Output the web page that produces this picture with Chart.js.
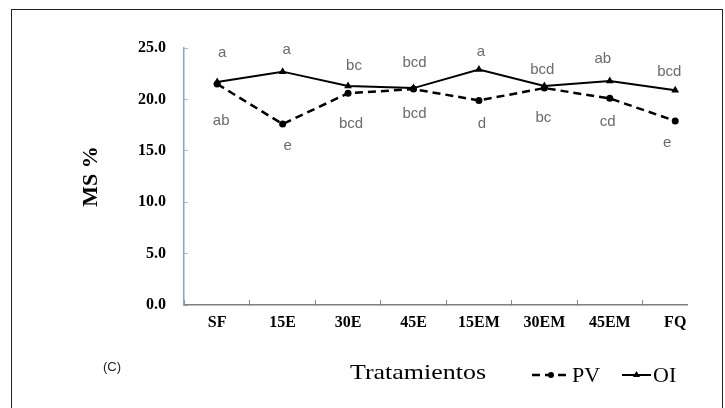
<!DOCTYPE html>
<html>
<head>
<meta charset="utf-8">
<script src="https://cdn.jsdelivr.net/npm/chart.js@4/dist/chart.umd.min.js"></script>
<style>
  html, body { margin: 0; padding: 0; background: #ffffff; }
  #wrap { position: relative; width: 725px; height: 408px; overflow: hidden; }
  #frame { position: absolute; left: 11px; top: 9px; width: 712px; height: 410px; border: 1.5px solid #222; box-sizing: border-box; pointer-events: none; }
  canvas { position: absolute; left: 0; top: 0; }
</style>
</head>
<body>
<div id="wrap">
  <canvas id="c" width="725" height="408"></canvas>
  <div id="frame"></div>
</div>
<script>
// ---- data ----
const categories = ["SF", "15E", "30E", "45E", "15EM", "30EM", "45EM", "FQ"];
const pvValues = [21.5, 17.6, 20.6, 21.0, 19.9, 21.1, 20.1, 17.9];
const oiValues = [21.7, 22.7, 21.3, 21.1, 22.9, 21.3, 21.8, 20.9];
const pvLetters = ["ab", "e", "bcd", "bcd", "d", "bc", "cd", "e"];
const oiLetters = ["a", "a", "bc", "bcd", "a", "bcd", "ab", "bcd"];
const yTicks = [0, 5, 10, 15, 20, 25];
const seriesNames = ["PV", "OI"];

// ---- label placement (pixel offsets from each point, text centre) ----
const oiLabelOffsets = [[5,-29],[4,-22],[6,-20],[1,-25],[2,-18],[-2,-16],[-7,-22],[-6,-18]];
const pvLabelOffsets = [[4,37],[5,22],[3,31],[1,25],[3,23],[-1,30],[-2,23],[-8,22]];

const SERIF = "'Liberation Serif', 'Times New Roman', serif";
const SANS = "'Liberation Sans', Arial, sans-serif";

const lettersPlugin = {
  id: 'letters',
  afterDatasetsDraw(chart) {
    const ctx = chart.ctx;
    ctx.save();
    ctx.font = "15px " + SANS;
    ctx.fillStyle = "#6b6b6b";
    ctx.textAlign = "center";
    ctx.textBaseline = "middle";
    const sets = [[0, pvLetters, pvLabelOffsets], [1, oiLetters, oiLabelOffsets]];
    sets.forEach(([di, letters, offs]) => {
      const meta = chart.getDatasetMeta(di);
      meta.data.forEach((pt, i) => {
        ctx.fillText(letters[i], pt.x + offs[i][0], pt.y + offs[i][1]);
      });
    });
    ctx.restore();
  }
};

const bottomTextPlugin = {
  id: 'bottomText',
  afterDraw(chart) {
    const ctx = chart.ctx;
    ctx.save();
    // panel tag
    ctx.font = "13px " + SANS;
    ctx.fillStyle = "#222";
    ctx.textAlign = "center";
    ctx.textBaseline = "middle";
    ctx.fillText("(C)", 112, 367);
    // axis title (slightly widened like the reference)
    ctx.save();
    ctx.translate(418, 379);
    ctx.scale(1.18, 1);
    ctx.font = "22px " + SERIF;
    ctx.fillStyle = "#000";
    ctx.textBaseline = "alphabetic";
    ctx.fillText("Tratamientos", 0, 0);
    ctx.restore();
    // legend
    const ly = 375;
    const items = [
      { x: 532, w: 38, ds: chart.data.datasets[0] },
      { x: 622, w: 29, ds: chart.data.datasets[1] }
    ];
    items.forEach(it => {
      const ds = it.ds;
      ctx.strokeStyle = ds.borderColor;
      ctx.lineWidth = ds.borderWidth;
      ctx.setLineDash(ds.borderDash || []);
      ctx.beginPath();
      ctx.moveTo(it.x, ly);
      ctx.lineTo(it.x + it.w, ly);
      ctx.stroke();
      ctx.setLineDash([]);
      ctx.fillStyle = ds.pointBackgroundColor;
      const cx = it.x + it.w / 2;
      if (ds.pointStyle === 'circle') {
        ctx.beginPath();
        ctx.arc(cx, ly, 3, 0, Math.PI * 2);
        ctx.fill();
      } else {
        ctx.beginPath();
        ctx.moveTo(cx, ly - 4);
        ctx.lineTo(cx + 3.5, ly + 2);
        ctx.lineTo(cx - 3.5, ly + 2);
        ctx.closePath();
        ctx.fill();
      }
      ctx.font = "22px " + SERIF;
      ctx.fillStyle = "#000";
      ctx.textAlign = "left";
      ctx.textBaseline = "alphabetic";
      ctx.fillText(ds.label, it.x + it.w + 2, 382);
    });
    ctx.restore();
  }
};

const toPoints = vals => vals.map((v, i) => ({ x: i, y: v }));

new Chart(document.getElementById('c'), {
  type: 'line',
  data: {
    datasets: [
      {
        label: seriesNames[0],
        data: toPoints(pvValues),
        borderColor: '#000',
        borderWidth: 2.5,
        borderDash: [8, 5],
        pointStyle: 'circle',
        pointRadius: 3.5,
        pointBackgroundColor: '#000',
        pointBorderColor: '#000',
        pointBorderWidth: 0,
        tension: 0,
        fill: false
      },
      {
        label: seriesNames[1],
        data: toPoints(oiValues),
        borderColor: '#000',
        borderWidth: 2,
        pointStyle: 'triangle',
        pointRadius: 4.5,
        pointBackgroundColor: '#000',
        pointBorderColor: '#000',
        pointBorderWidth: 0,
        tension: 0,
        fill: false
      }
    ]
  },
  options: {
    responsive: false,
    animation: false,
    devicePixelRatio: 1,
    layout: { padding: { left: 0, top: 48, right: 38, bottom: 0 } },
    plugins: {
      legend: { display: false },
      tooltip: { enabled: false }
    },
    scales: {
      x: {
        type: 'linear',
        min: -0.507,
        max: 7.18,
        afterBuildTicks: s => { s.ticks = categories.map((_, i) => ({ value: i })); },
        afterFit: s => { s.height = 103; },
        ticks: {
          autoSkip: false,
          maxRotation: 0,
          padding: 13,
          color: '#000',
          font: { family: SERIF, size: 16, weight: 'bold' },
          callback: v => categories[v]
        },
        grid: {
          offset: true,
          drawOnChartArea: false,
          drawTicks: true,
          tickLength: -5,
          color: '#8a8a8a',
          lineWidth: 1
        },
        border: { display: true, color: '#7f7f7f', width: 1.5 }
      },
      y: {
        type: 'linear',
        min: 0,
        max: 25,
        afterBuildTicks: s => { s.ticks = yTicks.map(v => ({ value: v })); },
        afterFit: s => { s.width = 184; },
        ticks: {
          padding: 22,
          color: '#000',
          font: { family: SERIF, size: 16, weight: 'bold' },
          callback: v => Number(v).toFixed(1)
        },
        grid: {
          drawOnChartArea: false,
          drawTicks: true,
          tickLength: -4,
          color: '#b3bccd',
          lineWidth: 1
        },
        border: { display: true, color: '#8da2cf', width: 1.5 },
        title: {
          display: true,
          text: 'MS %',
          color: '#000',
          font: { family: SERIF, size: 22, weight: 'bold' },
          padding: { top: 78, bottom: 0 }
        }
      }
    }
  },
  plugins: [lettersPlugin, bottomTextPlugin]
});
</script>
</body>
</html>
